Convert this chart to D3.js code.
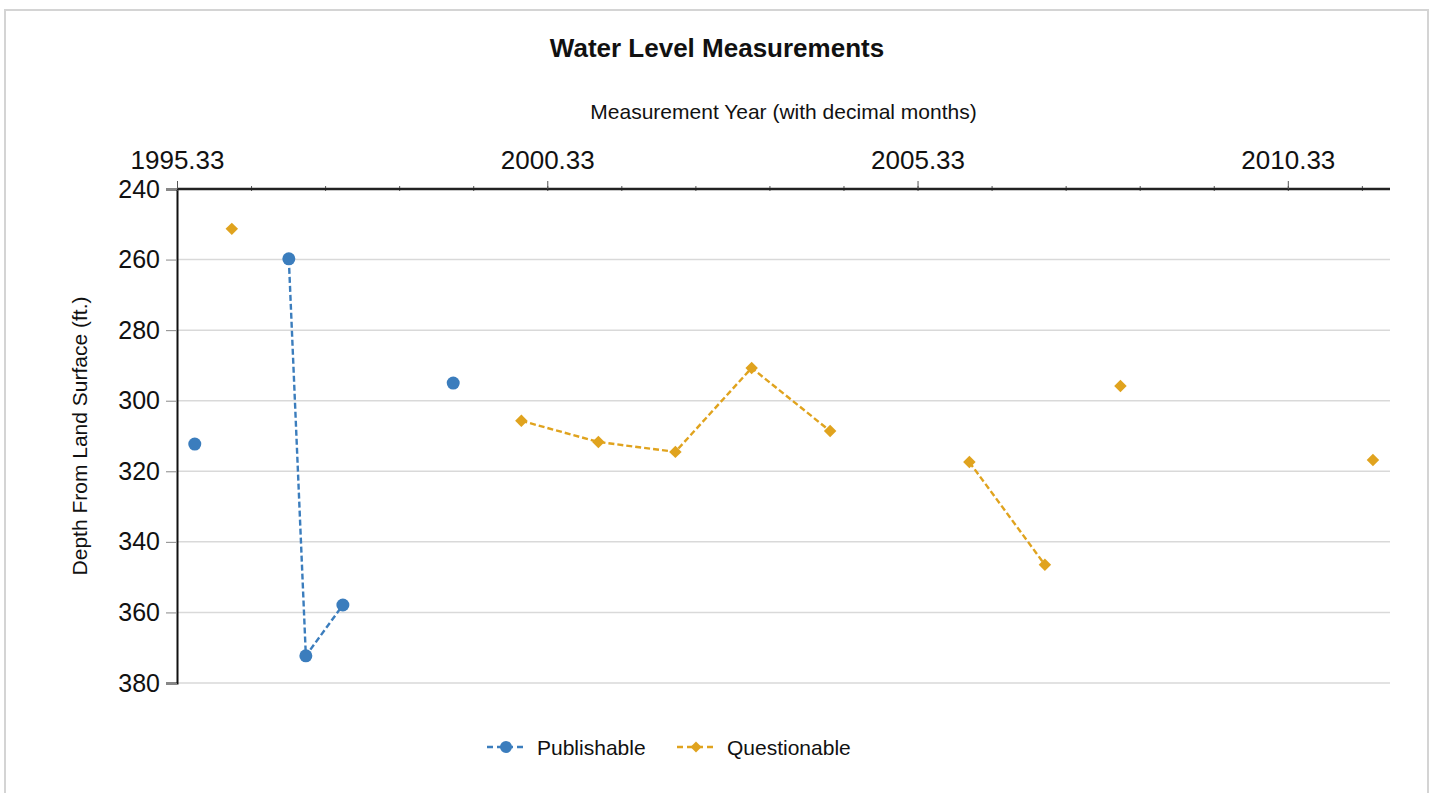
<!DOCTYPE html>
<html>
<head>
<meta charset="utf-8">
<script src="https://cdn.jsdelivr.net/npm/d3@7"></script>
<style>
  body { margin: 0; background: #fff; }
  svg { font-family: "Liberation Sans", Arial, sans-serif; }
</style>
</head>
<body>
<div id="chart"></div>
<script>
// --- data ---
const pubYears = [1995.57, 1996.84, 1997.07, 1997.57, 1999.06];
const pubDepth = [312.3, 259.8, 372.3, 357.9, 295.0];
const pubRun   = [0, 1, 1, 1, 2];   // points in the same run are joined

const qYears = [1996.07, 1999.98, 2001.02, 2002.06, 2003.09, 2004.15, 2006.03, 2007.05, 2008.07, 2011.48];
const qDepth = [251.3, 305.7, 311.7, 314.5, 290.7, 308.6, 317.4, 346.5, 295.8, 316.8];
const qRun   = [0, 1, 1, 1, 1, 1, 2, 2, 3, 4];

const xTickLabels = [1995.33, 2000.33, 2005.33, 2010.33];
const yTickLabels = [240, 260, 280, 300, 320, 340, 360, 380];
const seriesNames = ['Publishable', 'Questionable'];

const width = 1437, height = 793;
const margin = { top: 189, right: 47, bottom: 110, left: 177 };
const blue = '#3b7dbd', gold = '#e0a31e';

const svg = d3.select('#chart').append('svg')
  .attr('width', width)
  .attr('height', height);

// outer frame
svg.append('rect')
  .attr('x', 5).attr('y', 10)
  .attr('width', 1423).attr('height', 800)
  .attr('fill', 'none')
  .attr('stroke', '#d4d4d4')
  .attr('stroke-width', 2);

const x = d3.scaleLinear().domain([1995.33, 2011.71]).range([margin.left, width - margin.right]);
const y = d3.scaleLinear().domain([240, 380]).range([margin.top, height - margin.bottom]);

// gridlines
svg.append('g')
  .selectAll('line')
  .data(yTickLabels.slice(1))
  .enter().append('line')
  .attr('x1', x.range()[0]).attr('x2', x.range()[1])
  .attr('y1', d => y(d)).attr('y2', d => y(d))
  .style('stroke', '#d9d9d9')
  .style('stroke-width', 1.5);

// left axis
const gY = svg.append('g')
  .attr('transform', `translate(${margin.left},0)`)
  .call(d3.axisLeft(y).tickValues(yTickLabels).tickSize(11).tickPadding(6));
gY.select('.domain').style('stroke', '#111').style('stroke-width', 2);
gY.selectAll('.tick line').style('stroke', '#888').style('stroke-width', 1);
gY.selectAll('.tick text').style('font-size', '25px').style('fill', '#111')
  .attr('font-family', '"Liberation Sans", Arial, sans-serif');

// top axis: minor ticks every year, then major ticks with labels
const minor = d3.range(0, 17).map(i => 1995.33 + i);
const gXm = svg.append('g')
  .attr('transform', `translate(0,${margin.top + 2})`)
  .call(d3.axisTop(x).tickValues(minor).tickSize(5).tickFormat(''));
gXm.select('.domain').remove();
gXm.selectAll('.tick line').style('stroke', '#555');

const gX = svg.append('g')
  .attr('transform', `translate(0,${margin.top})`)
  .call(d3.axisTop(x).tickValues(xTickLabels).tickSize(8).tickPadding(12).tickFormat(d3.format('.2f')));
gX.select('.domain').attr('d', `M${x.range()[0]},0H${x.range()[1]}`)
  .style('stroke', '#222').style('stroke-width', 2.5);
gX.selectAll('.tick line').style('stroke', '#555');
gX.selectAll('.tick text').style('font-size', '26px').style('fill', '#111')
  .attr('font-family', '"Liberation Sans", Arial, sans-serif');

// titles
svg.append('text')
  .attr('x', 717).attr('y', 57)
  .attr('text-anchor', 'middle')
  .style('font-size', '26px').style('font-weight', 'bold').style('fill', '#111')
  .text('Water Level Measurements');

svg.append('text')
  .attr('x', (x.range()[0] + x.range()[1]) / 2).attr('y', 119)
  .attr('text-anchor', 'middle')
  .style('font-size', '21px').style('fill', '#111')
  .text('Measurement Year (with decimal months)');

svg.append('text')
  .attr('transform', `translate(87,${(y.range()[0] + y.range()[1]) / 2}) rotate(-90)`)
  .attr('text-anchor', 'middle')
  .style('font-size', '21px').style('fill', '#111')
  .text('Depth From Land Surface (ft.)');

// series
const line = d3.line().x(d => x(d.year)).y(d => y(d.depth));
const diamond = d3.symbol().type(d3.symbolSquare).size(78);

function drawSeries(years, depths, runs, color, marker) {
  const pts = years.map((yr, i) => ({ year: yr, depth: depths[i], run: runs[i] }));
  const g = svg.append('g');
  d3.groups(pts, d => d.run).forEach(([, run]) => {
    if (run.length < 2) return;
    g.append('path')
      .datum(run)
      .attr('d', line)
      .attr('fill', 'none')
      .attr('stroke', color)
      .attr('stroke-width', 2.4)
      .attr('stroke-dasharray', '6,3');
  });
  if (marker === 'circle') {
    g.selectAll('circle').data(pts).enter().append('circle')
      .attr('cx', d => x(d.year)).attr('cy', d => y(d.depth))
      .attr('r', 6.5).attr('fill', color);
  } else {
    g.selectAll('path.pt').data(pts).enter().append('path')
      .attr('class', 'pt')
      .attr('transform', d => `translate(${x(d.year)},${y(d.depth)}) rotate(45)`)
      .attr('d', diamond).attr('fill', color);
  }
}

drawSeries(pubYears, pubDepth, pubRun, blue, 'circle');
drawSeries(qYears, qDepth, qRun, gold, 'diamond');

// legend
const legend = svg.append('g').attr('transform', 'translate(487,747)');
const items = [
  { name: seriesNames[0], color: blue, marker: 'circle', dx: 0 },
  { name: seriesNames[1], color: gold, marker: 'diamond', dx: 190 }
];
items.forEach(it => {
  const li = legend.append('g').attr('transform', `translate(${it.dx},0)`);
  li.append('line')
    .attr('x1', 0).attr('x2', 38).attr('y1', 0).attr('y2', 0)
    .attr('stroke', it.color).attr('stroke-width', 2.4)
    .attr('stroke-dasharray', '6,4');
  if (it.marker === 'circle') {
    li.append('circle').attr('cx', 19).attr('cy', 0).attr('r', 6).attr('fill', it.color);
  } else {
    li.append('path').attr('transform', 'translate(19,0) rotate(45)')
      .attr('d', d3.symbol().type(d3.symbolSquare).size(60)).attr('fill', it.color);
  }
  li.append('text')
    .attr('x', 50).attr('y', 8)
    .style('font-size', '21px').style('fill', '#111')
    .text(it.name);
});
</script>
</body>
</html>
